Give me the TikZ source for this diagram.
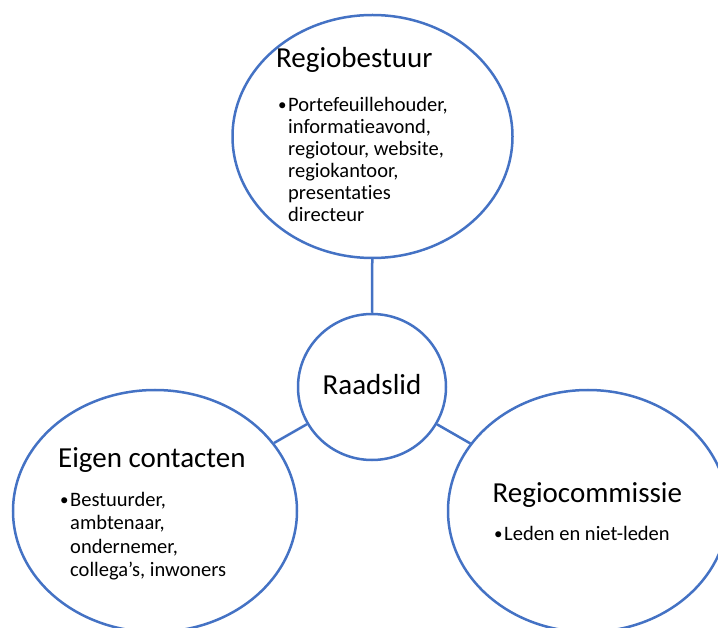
\documentclass[tikz,border=0pt]{standalone}
\usepackage{fontspec}
\setmainfont{Carlito}[RawFeature={-liga;-clig;-dlig}]
\usetikzlibrary{shapes.geometric}
\definecolor{officeblue}{HTML}{4472C4}
\begin{document}
\begin{tikzpicture}[x=1pt,y=-1pt,
  bubble/.style={ellipse,draw=officeblue,line width=2.5pt,fill=white,inner sep=0pt},
  link/.style={draw=officeblue,line width=2.5pt},
  title/.style={anchor=base west,inner sep=0pt,font=\fontsize{29}{33}\selectfont},
  body/.style={anchor=base west,inner sep=0pt,font=\fontsize{20.5}{22}\selectfont},
  bul/.style={anchor=base west,inner sep=0pt,font=\fontsize{17}{22}\selectfont}]
\useasboundingbox (0,0) rectangle (718,628);
\clip (0,0) rectangle (718,628);
\node[bubble,minimum width=280pt,minimum height=243pt] (top) at (372.5,136.5) {};
\node[bubble,minimum width=148pt,minimum height=146pt] (mid) at (372,387) {};
\node[bubble,minimum width=284pt,minimum height=242pt] (left) at (155,511) {};
\node[bubble,minimum width=280pt,minimum height=242pt] (right) at (588,511) {};
\draw[link] (top) -- (mid);
\draw[link] (mid) -- (left);
\draw[link] (mid) -- (right);
% texts
\node[title] (ttop) at (276,68) {Regiobestuur};
\node[bul] (btop) at (278,111) {•};
\foreach \t [count=\i] in {Portefeuillehouder{,},informatieavond{,},{regiotour, website,},regiokantoor{,},presentaties,directeur}
  \node[body] (ltop\i) at (288,{112+22*(\i-1)}) {\t};
\node[anchor=base,inner sep=0pt,font=\fontsize{29}{33}\selectfont] (tmid) at (372,395) {Raadslid};
\node[title] (tleft) at (58,467) {Eigen contacten};
\node[bul] (bleft) at (60,505) {•};
\foreach \t [count=\i] in {Bestuurder{,},ambtenaar{,},ondernemer{,},{collega’s, inwoners}}
  \node[body] (lleft\i) at (70,{506+23.5*(\i-1)}) {\t};
\node[title] (tright) at (492.5,502) {Regiocommissie};
\node[bul] (bright) at (494,539) {•};
\node[body] (lright) at (504,540) {Leden en niet-leden};
\end{tikzpicture}
\end{document}
